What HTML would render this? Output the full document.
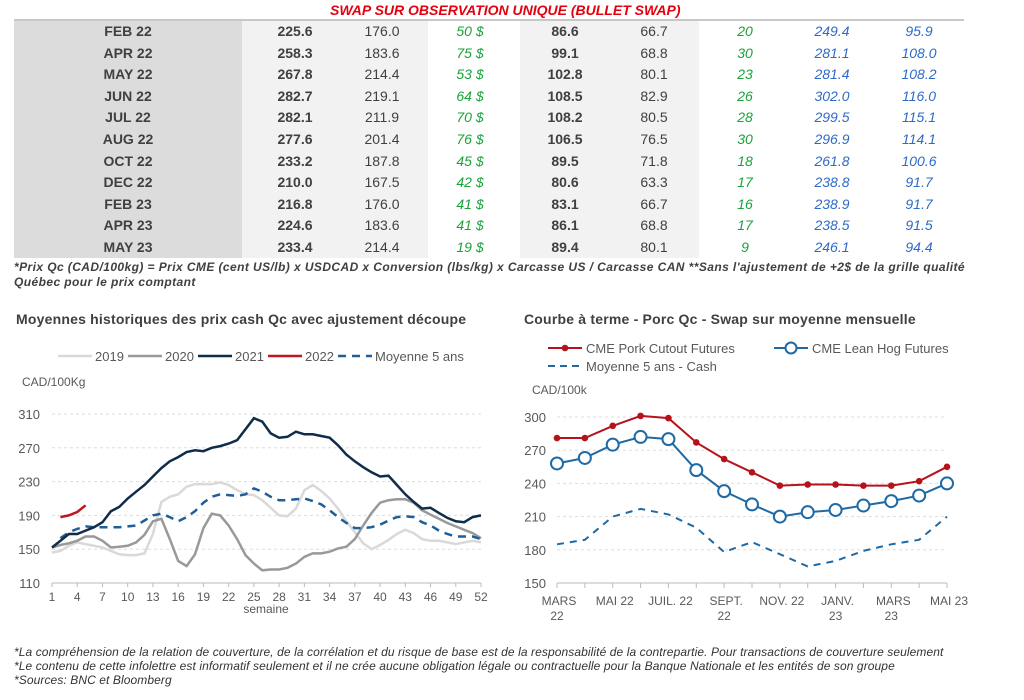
<!DOCTYPE html>
<html><head><meta charset="utf-8">
<style>
body{margin:0;width:1024px;height:700px;background:#fff;font-family:"Liberation Sans","DejaVu Sans",sans-serif;position:relative;overflow:hidden;color:#404040}
.abs{position:absolute}
.title{position:absolute;top:2px;left:330px;color:#e3000f;font-weight:bold;font-style:italic;font-size:14px}
.hl{position:absolute;left:14px;top:19px;width:950px;height:2px;background:#c8c8c8}
.row{position:absolute;left:14px;height:21.6px;line-height:21.6px;font-size:14px;width:950px}
.row span{position:absolute;text-align:center;width:80px}
.b{font-weight:bold}
.g{color:#1aa33a;font-style:italic}
.bl{color:#2e6ac8;font-style:italic}
.note{position:absolute;left:14px;top:260px;font-size:12px;font-style:italic;font-weight:bold;color:#404040;line-height:15px;width:1000px;letter-spacing:0.42px;white-space:nowrap}
.ct{position:absolute;top:311px;font-size:14px;font-weight:bold;color:#404040;letter-spacing:0.2px}
.foot{position:absolute;left:14px;top:645px;font-size:12px;font-style:italic;line-height:14px;color:#333;letter-spacing:0.09px;white-space:nowrap}
svg text{font-family:"Liberation Sans","DejaVu Sans",sans-serif;fill:#595959}
</style></head><body>
<div class="title">SWAP SUR OBSERVATION UNIQUE (BULLET SWAP)</div>
<div class="abs" style="left:14px;top:21px;width:228px;height:237px;background:#dcdcdc"></div>
<div class="abs" style="left:242px;top:21px;width:186px;height:237px;background:#f2f2f2"></div>
<div class="abs" style="left:520px;top:21px;width:179px;height:237px;background:#f2f2f2"></div>
<div class="hl"></div>
<div id="rows"></div>
<div class="note">*Prix Qc (CAD/100kg) = Prix CME (cent US/lb) x USDCAD x Conversion (lbs/kg) x Carcasse US / Carcasse CAN **Sans l'ajustement de +2$ de la grille qualité<br>Québec pour le prix comptant</div>
<div class="ct" style="left:16px">Moyennes historiques des prix cash Qc avec ajustement découpe</div>
<div class="ct" style="left:524px">Courbe à terme - Porc Qc - Swap sur moyenne mensuelle</div>
<svg class="abs" style="left:0;top:330px" width="510" height="290" id="L"></svg>
<svg class="abs" style="left:510px;top:330px" width="500" height="290" id="R"></svg>
<div class="foot">*La compréhension de la relation de couverture, de la corrélation et du risque de base est de la responsabilité de la contrepartie. Pour transactions de couverture seulement<br>*Le contenu de cette infolettre est informatif seulement et il ne crée aucune obligation légale ou contractuelle pour la Banque Nationale et les entités de son groupe<br>*Sources: BNC et Bloomberg</div>
<script>
var D=[["FEB 22","225.6","176.0","50 $","86.6","66.7","20","249.4","95.9"],["APR 22","258.3","183.6","75 $","99.1","68.8","30","281.1","108.0"],["MAY 22","267.8","214.4","53 $","102.8","80.1","23","281.4","108.2"],["JUN 22","282.7","219.1","64 $","108.5","82.9","26","302.0","116.0"],["JUL 22","282.1","211.9","70 $","108.2","80.5","28","299.5","115.1"],["AUG 22","277.6","201.4","76 $","106.5","76.5","30","296.9","114.1"],["OCT 22","233.2","187.8","45 $","89.5","71.8","18","261.8","100.6"],["DEC 22","210.0","167.5","42 $","80.6","63.3","17","238.8","91.7"],["FEB 23","216.8","176.0","41 $","83.1","66.7","16","238.9","91.7"],["APR 23","224.6","183.6","41 $","86.1","68.8","17","238.5","91.5"],["MAY 23","233.4","214.4","19 $","89.4","80.1","9","246.1","94.4"]];
var cx=[128,295,382,470,565,654,745,832,919],cls=["b","b","","g","b","","g","bl","bl"];
var h="";D.forEach(function(r,i){h+='<div class="row" style="top:'+(21+i*21.6)+'px">';r.forEach(function(v,j){h+='<span class="'+cls[j]+'" style="left:'+(cx[j]-14-40)+'px">'+v+'</span>'});h+='</div>'});
document.getElementById("rows").innerHTML=h;
function P(pts){return pts.map(function(p,i){return (i?"L":"M")+p[0].toFixed(1)+","+p[1].toFixed(1)}).join("")}
var s="";var ly=function(v){return 583-330-(v-110)*169/200},lx=function(w){return 52+(w-1)*429/51};
[110,150,190,230,270,310].forEach(function(v){if(v>110)s+='<line x1="52" x2="481" y1="'+ly(v)+'" y2="'+ly(v)+'" stroke="#ddd" stroke-dasharray="3,3"/>';s+='<text x="40" y="'+(ly(v)+5)+'" font-size="13" text-anchor="end">'+v+'</text>'});
s+='<line x1="52" x2="481" y1="'+ly(110)+'" y2="'+ly(110)+'" stroke="#bbb"/>';
for(var w=1;w<=52;w+=3){s+='<line x1="'+lx(w)+'" x2="'+lx(w)+'" y1="'+ly(110)+'" y2="'+(ly(110)+4)+'" stroke="#bbb"/><text x="'+lx(w)+'" y="'+(ly(110)+18)+'" font-size="12" text-anchor="middle">'+w+'</text>'}
s+='<text x="266" y="283" font-size="12" text-anchor="middle">semaine</text><text x="22" y="56" font-size="12">CAD/100Kg</text>';
var y19=[146,148,154,158,156,154,152,148,144,143,143,145,168,206,212,215,224,227,227,227,229,226,220,215,214,208,199,190,189,198,220,226,219,210,198,183,170,157,150,155,161,168,173,169,162,160,160,158,156,158,160,158];
var y20=[152,155,157,160,165,165,160,152,153,154,158,167,183,186,162,136,130,144,175,192,190,178,162,143,133,125,126,126,128,133,141,145,145,147,151,153,162,178,193,205,208,209,209,205,196,191,186,181,177,173,169,163];
var y21=[152,160,168,168,172,176,182,195,200,210,218,226,236,246,254,259,265,267,266,270,272,275,279,292,305,301,287,282,283,289,286,286,284,282,273,262,254,247,241,236,237,226,215,206,198,199,193,187,183,182,188,190];
var y5=[null,163,170,174,177,176,176,176,176,177,178,184,190,192,188,183,188,195,205,212,215,214,213,215,222,218,212,208,208,209,210,207,203,196,188,181,175,175,176,179,184,188,189,188,182,178,172,168,165,165,165,162];
function ser(a,st){var p=[];a.forEach(function(v,i){if(v!=null)p.push([lx(i+1),ly(v)])});return '<path d="'+P(p)+'" fill="none" '+st+'/>'}
s+=ser(y19,'stroke="#d9d9d9" stroke-width="2.5"')+ser(y20,'stroke="#999" stroke-width="2.5"')+ser(y5,'stroke="#1f5e96" stroke-width="2.5" stroke-dasharray="8,6"')+ser(y21,'stroke="#0f2d4a" stroke-width="2.5"');
s+='<path d="'+P([[lx(2),ly(188)],[lx(3),ly(190)],[lx(4),ly(194)],[lx(5),ly(202)]])+'" fill="none" stroke="#c0161e" stroke-width="2.5"/>';
var lg=[["2019","#d9d9d9",58,""],["2020","#999",128,""],["2021","#0f2d4a",198,""],["2022","#c0161e",268,""],["Moyenne 5 ans","#1f5e96",338,"8,6"]];
lg.forEach(function(g){s+='<line x1="'+g[2]+'" x2="'+(g[2]+34)+'" y1="26" y2="26" stroke="'+g[1]+'" stroke-width="2.5" stroke-dasharray="'+g[3]+'"/><text x="'+(g[2]+37)+'" y="31" font-size="13">'+g[0]+'</text>'});
document.getElementById("L").innerHTML=s;
s="";var ry=function(v){return 583-330-(v-150)*166/150},rx=function(i){return 557-510+i*(947-557)/14};
[150,180,210,240,270,300].forEach(function(v){if(v>150)s+='<line x1="'+rx(0)+'" x2="'+rx(14)+'" y1="'+ry(v)+'" y2="'+ry(v)+'" stroke="#ddd" stroke-dasharray="3,3"/>';s+='<text x="36" y="'+(ry(v)+5)+'" font-size="13" text-anchor="end">'+v+'</text>'});
s+='<line x1="'+rx(0)+'" x2="'+rx(14)+'" y1="'+ry(150)+'" y2="'+ry(150)+'" stroke="#bbb"/>';
for(var i=0;i<15;i++)s+='<line x1="'+rx(i)+'" x2="'+rx(i)+'" y1="'+ry(150)+'" y2="'+(ry(150)+5)+'" stroke="#bbb"/>';
[[0,"MARS","22"],[2,"MAI 22",""],[4,"JUIL. 22",""],[6,"SEPT.","22"],[8,"NOV. 22",""],[10,"JANV.","23"],[12,"MARS","23"],[14,"MAI 23",""]].forEach(function(t){s+='<text x="'+(rx(t[0])+2)+'" y="'+(ry(150)+22)+'" font-size="12" text-anchor="middle">'+t[1]+'</text>';if(t[2])s+='<text x="'+rx(t[0])+'" y="'+(ry(150)+37)+'" font-size="12" text-anchor="middle">'+t[2]+'</text>'});
var pk=[281,281,292,301,299,277,262,250,238,239,239,238,238,242,255],ln=[258,263,275,282,280,252,233,221,210,214,216,220,224,229,240],cs=[185,189,210,217,212,200,178,187,176,165,170,179,185,189,210];
function rp(a){return P(a.map(function(v,i){return [rx(i),ry(v)]}))}
s+='<path d="'+rp(cs)+'" fill="none" stroke="#1f6aa5" stroke-width="2" stroke-dasharray="7,6"/>';
s+='<path d="'+rp(pk)+'" fill="none" stroke="#b5121b" stroke-width="2"/>';
s+='<path d="'+rp(ln)+'" fill="none" stroke="#1f6aa5" stroke-width="2"/>';
pk.forEach(function(v,i){s+='<circle cx="'+rx(i)+'" cy="'+ry(v)+'" r="3.3" fill="#b5121b"/>'});
ln.forEach(function(v,i){s+='<circle cx="'+rx(i)+'" cy="'+ry(v)+'" r="6" fill="#fff" stroke="#1f6aa5" stroke-width="2"/>'});
s+='<text x="22" y="64" font-size="12">CAD/100k</text>';
s+='<line x1="38" x2="72" y1="18" y2="18" stroke="#b5121b" stroke-width="2"/><circle cx="55" cy="18" r="3.3" fill="#b5121b"/><text x="76" y="23" font-size="13">CME Pork Cutout Futures</text>';
s+='<line x1="264" x2="298" y1="18" y2="18" stroke="#1f6aa5" stroke-width="2"/><circle cx="281" cy="18" r="5.5" fill="#fff" stroke="#1f6aa5" stroke-width="2"/><text x="302" y="23" font-size="13">CME Lean Hog Futures</text>';
s+='<line x1="38" x2="72" y1="36" y2="36" stroke="#1f6aa5" stroke-width="2" stroke-dasharray="7,5"/><text x="76" y="41" font-size="13">Moyenne 5 ans - Cash</text>';
document.getElementById("R").innerHTML=s;
</script>
</body></html>
